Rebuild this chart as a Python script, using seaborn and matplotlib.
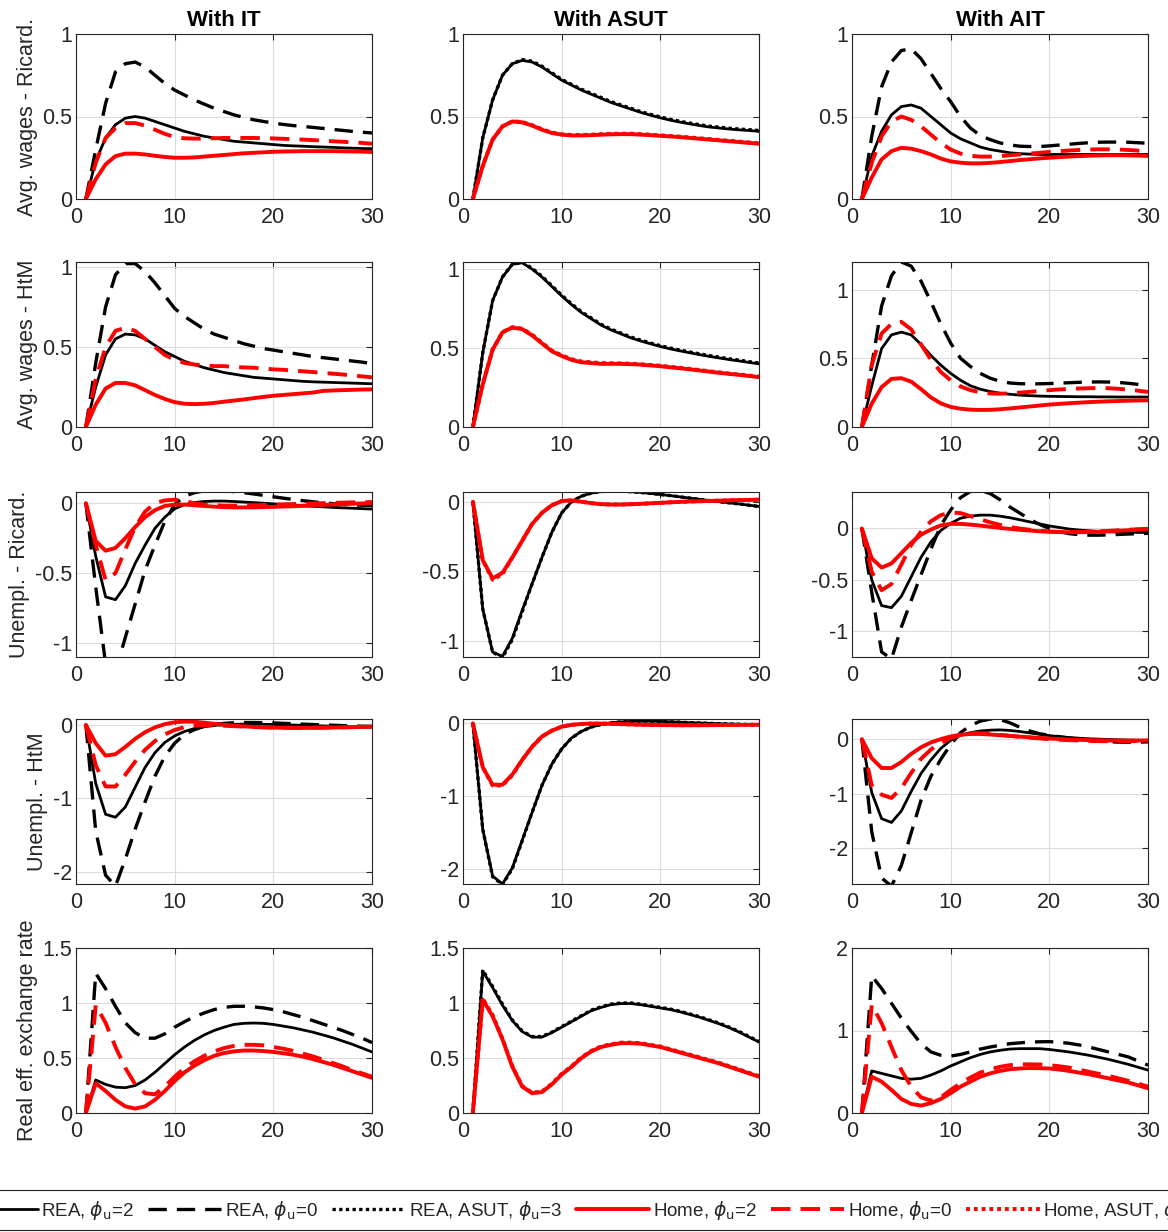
import matplotlib
matplotlib.use("Agg")
import matplotlib.pyplot as plt
from matplotlib.ticker import FuncFormatter
import seaborn as sns

periods = list(range(1, 31))

# ---------------- With IT ----------------
it_wr_rea2 = [0, 0.23, 0.37, 0.45, 0.49, 0.5, 0.49, 0.47, 0.45, 0.43, 0.41, 0.395, 0.38, 0.37, 0.36, 0.35, 0.345, 0.34, 0.335, 0.33, 0.325, 0.322, 0.32, 0.317, 0.315, 0.313, 0.31, 0.308, 0.306, 0.305]
it_wr_rea0 = [0, 0.3, 0.58, 0.77, 0.82, 0.83, 0.8, 0.75, 0.7, 0.66, 0.63, 0.6, 0.575, 0.55, 0.53, 0.51, 0.495, 0.48, 0.47, 0.46, 0.452, 0.445, 0.44, 0.434, 0.428, 0.422, 0.416, 0.41, 0.405, 0.4]
it_wr_home2 = [0, 0.12, 0.21, 0.26, 0.275, 0.275, 0.27, 0.262, 0.255, 0.25, 0.25, 0.252, 0.257, 0.262, 0.267, 0.272, 0.277, 0.28, 0.283, 0.286, 0.288, 0.289, 0.29, 0.29, 0.29, 0.29, 0.289, 0.288, 0.287, 0.285]
it_wr_home0 = [0, 0.22, 0.37, 0.43, 0.46, 0.46, 0.445, 0.42, 0.395, 0.375, 0.368, 0.366, 0.366, 0.368, 0.37, 0.37, 0.37, 0.37, 0.369, 0.367, 0.365, 0.362, 0.36, 0.357, 0.354, 0.35, 0.347, 0.343, 0.34, 0.335]

it_wh_rea2 = [0, 0.25, 0.45, 0.55, 0.58, 0.575, 0.55, 0.51, 0.47, 0.44, 0.41, 0.39, 0.37, 0.355, 0.34, 0.33, 0.32, 0.31, 0.305, 0.3, 0.295, 0.29, 0.285, 0.282, 0.28, 0.278, 0.276, 0.274, 0.272, 0.27]
it_wh_rea0 = [0, 0.4, 0.75, 0.95, 1.02, 1.02, 0.97, 0.9, 0.82, 0.74, 0.69, 0.65, 0.61, 0.58, 0.56, 0.54, 0.52, 0.505, 0.49, 0.48, 0.47, 0.46, 0.45, 0.44, 0.433, 0.426, 0.419, 0.412, 0.405, 0.395]
it_wh_home2 = [0, 0.14, 0.24, 0.275, 0.275, 0.26, 0.23, 0.2, 0.175, 0.155, 0.145, 0.143, 0.145, 0.15, 0.158, 0.165, 0.172, 0.18, 0.188, 0.195, 0.2, 0.205, 0.21, 0.215, 0.225, 0.228, 0.23, 0.232, 0.234, 0.235]
it_wh_home0 = [0, 0.3, 0.5, 0.6, 0.62, 0.6, 0.55, 0.5, 0.45, 0.42, 0.4, 0.39, 0.385, 0.38, 0.38, 0.375, 0.372, 0.37, 0.365, 0.36, 0.357, 0.352, 0.348, 0.343, 0.338, 0.333, 0.328, 0.322, 0.316, 0.31]

it_ur_rea2 = [0, -0.38, -0.67, -0.69, -0.59, -0.43, -0.3, -0.18, -0.1, -0.04, -0.01, 0.005, 0.012, 0.015, 0.015, 0.012, 0.008, 0.004, 0.0, -0.005, -0.01, -0.014, -0.018, -0.022, -0.026, -0.03, -0.033, -0.036, -0.039, -0.042]
it_ur_rea0 = [0, -0.6, -1.15, -1.2, -0.96, -0.72, -0.48, -0.3, -0.13, -0.01, 0.05, 0.075, 0.088, 0.09, 0.088, 0.083, 0.075, 0.066, 0.056, 0.046, 0.036, 0.027, 0.018, 0.01, 0.003, -0.003, -0.008, -0.012, -0.015, -0.017]
it_ur_home2 = [0, -0.27, -0.34, -0.32, -0.25, -0.17, -0.1, -0.05, -0.02, -0.01, -0.01, -0.015, -0.02, -0.025, -0.028, -0.03, -0.03, -0.03, -0.028, -0.026, -0.024, -0.022, -0.019, -0.016, -0.013, -0.01, -0.007, -0.004, -0.002, 0.0]
it_ur_home0 = [0, -0.3, -0.55, -0.5, -0.33, -0.17, -0.06, 0.0, 0.02, 0.025, 0.015, 0.0, -0.01, -0.015, -0.018, -0.018, -0.017, -0.015, -0.013, -0.01, -0.008, -0.006, -0.004, -0.002, 0.0, 0.002, 0.004, 0.006, 0.007, 0.008]

it_uh_rea2 = [0, -0.8, -1.22, -1.26, -1.12, -0.85, -0.58, -0.38, -0.24, -0.15, -0.09, -0.05, -0.025, -0.008, 0.002, 0.008, 0.01, 0.01, 0.008, 0.005, 0.002, -0.002, -0.006, -0.01, -0.014, -0.018, -0.022, -0.026, -0.03, -0.033]
it_uh_rea0 = [0, -1.45, -2.05, -2.2, -1.83, -1.42, -1.05, -0.7, -0.43, -0.25, -0.13, -0.065, -0.02, 0.005, 0.02, 0.028, 0.032, 0.032, 0.03, 0.026, 0.021, 0.016, 0.01, 0.005, 0.0, -0.005, -0.01, -0.014, -0.018, -0.021]
it_uh_home2 = [0, -0.25, -0.42, -0.4, -0.3, -0.19, -0.1, -0.035, 0.01, 0.035, 0.045, 0.042, 0.03, 0.015, 0.002, -0.01, -0.02, -0.028, -0.033, -0.037, -0.04, -0.041, -0.041, -0.04, -0.038, -0.036, -0.034, -0.031, -0.028, -0.025]
it_uh_home0 = [0, -0.55, -0.84, -0.84, -0.68, -0.5, -0.34, -0.22, -0.13, -0.07, -0.03, -0.01, -0.005, -0.008, -0.012, -0.018, -0.024, -0.029, -0.033, -0.036, -0.038, -0.039, -0.039, -0.038, -0.037, -0.035, -0.033, -0.031, -0.029, -0.027]

it_rer_rea2 = [0, 0.3, 0.26, 0.235, 0.23, 0.25, 0.3, 0.37, 0.45, 0.53, 0.6, 0.66, 0.71, 0.75, 0.78, 0.805, 0.815, 0.818, 0.815, 0.805, 0.79, 0.775, 0.755, 0.735, 0.71, 0.685, 0.655, 0.625, 0.59, 0.555]
it_rer_rea0 = [0, 1.27, 1.13, 0.97, 0.82, 0.73, 0.68, 0.68, 0.72, 0.78, 0.83, 0.875, 0.91, 0.94, 0.96, 0.97, 0.97, 0.965, 0.955, 0.94, 0.92, 0.895, 0.87, 0.84, 0.81, 0.78, 0.75, 0.715, 0.68, 0.64]
it_rer_home2 = [0, 0.27, 0.2, 0.12, 0.06, 0.04, 0.06, 0.12, 0.2, 0.29, 0.37, 0.43, 0.48, 0.52, 0.545, 0.56, 0.568, 0.568, 0.563, 0.555, 0.543, 0.53, 0.513, 0.49, 0.465, 0.44, 0.41, 0.38, 0.35, 0.32]
it_rer_home0 = [0, 0.98, 0.82, 0.6, 0.41, 0.26, 0.18, 0.17, 0.24, 0.33, 0.41, 0.47, 0.52, 0.56, 0.59, 0.61, 0.62, 0.62, 0.615, 0.6, 0.585, 0.565, 0.54, 0.515, 0.485, 0.455, 0.425, 0.39, 0.36, 0.33]

# ---------------- With ASUT ----------------
asut_wr_rea2 = [0, 0.37, 0.6, 0.75, 0.82, 0.84, 0.83, 0.8, 0.76, 0.72, 0.69, 0.66, 0.635, 0.61, 0.585, 0.565, 0.545, 0.525, 0.508, 0.492, 0.478, 0.466, 0.455, 0.445, 0.436, 0.43, 0.424, 0.419, 0.415, 0.41]
asut_wr_rea3 = [0, 0.37, 0.6, 0.75, 0.82, 0.845, 0.835, 0.805, 0.765, 0.725, 0.695, 0.665, 0.64, 0.615, 0.59, 0.57, 0.55, 0.53, 0.513, 0.497, 0.483, 0.471, 0.46, 0.45, 0.441, 0.435, 0.429, 0.424, 0.42, 0.415]
asut_wr_home2 = [0, 0.2, 0.36, 0.44, 0.47, 0.465, 0.445, 0.42, 0.4, 0.39, 0.385, 0.385, 0.387, 0.39, 0.392, 0.393, 0.393, 0.39, 0.387, 0.383, 0.379, 0.375, 0.37, 0.365, 0.36, 0.355, 0.35, 0.345, 0.34, 0.335]
asut_wr_home3 = [0, 0.2, 0.36, 0.44, 0.47, 0.467, 0.448, 0.423, 0.403, 0.392, 0.388, 0.388, 0.39, 0.393, 0.395, 0.396, 0.396, 0.393, 0.39, 0.386, 0.382, 0.378, 0.373, 0.368, 0.363, 0.358, 0.353, 0.348, 0.343, 0.338]

asut_wh_rea2 = [0, 0.47, 0.8, 0.95, 1.03, 1.04, 1.0, 0.95, 0.89, 0.83, 0.775, 0.725, 0.685, 0.645, 0.615, 0.59, 0.565, 0.545, 0.527, 0.51, 0.495, 0.482, 0.47, 0.458, 0.447, 0.437, 0.427, 0.418, 0.409, 0.4]
asut_wh_rea3 = [0, 0.47, 0.8, 0.95, 1.03, 1.045, 1.005, 0.955, 0.895, 0.835, 0.78, 0.73, 0.69, 0.65, 0.62, 0.595, 0.57, 0.55, 0.532, 0.515, 0.5, 0.487, 0.475, 0.463, 0.452, 0.442, 0.432, 0.423, 0.414, 0.405]
asut_wh_home2 = [0, 0.27, 0.49, 0.6, 0.63, 0.62, 0.58, 0.53, 0.48, 0.45, 0.425, 0.41, 0.405, 0.4, 0.4, 0.4, 0.398, 0.395, 0.39, 0.385, 0.378, 0.372, 0.365, 0.358, 0.35, 0.343, 0.336, 0.33, 0.323, 0.316]
asut_wh_home3 = [0, 0.27, 0.49, 0.6, 0.632, 0.623, 0.584, 0.534, 0.484, 0.454, 0.43, 0.415, 0.41, 0.405, 0.404, 0.403, 0.401, 0.398, 0.393, 0.388, 0.381, 0.375, 0.368, 0.361, 0.353, 0.346, 0.339, 0.333, 0.326, 0.319]

asut_ur_rea2 = [0, -0.77, -1.08, -1.11, -0.98, -0.78, -0.59, -0.4, -0.22, -0.08, 0.0, 0.04, 0.062, 0.073, 0.078, 0.076, 0.072, 0.067, 0.06, 0.052, 0.044, 0.035, 0.026, 0.017, 0.008, 0.0, -0.008, -0.016, -0.025, -0.034]
asut_ur_rea3 = [0, -0.77, -1.08, -1.12, -0.99, -0.79, -0.59, -0.4, -0.22, -0.08, 0.0, 0.04, 0.062, 0.073, 0.078, 0.076, 0.072, 0.067, 0.06, 0.052, 0.044, 0.035, 0.026, 0.017, 0.008, 0.0, -0.008, -0.016, -0.025, -0.034]
asut_ur_home2 = [0, -0.42, -0.55, -0.51, -0.4, -0.28, -0.16, -0.08, -0.025, 0.005, 0.01, 0.0, -0.01, -0.017, -0.02, -0.02, -0.018, -0.015, -0.011, -0.008, -0.004, -0.001, 0.002, 0.004, 0.006, 0.008, 0.01, 0.012, 0.013, 0.015]
asut_ur_home3 = [0, -0.42, -0.56, -0.52, -0.4, -0.28, -0.16, -0.08, -0.025, 0.005, 0.01, 0.0, -0.01, -0.017, -0.02, -0.02, -0.018, -0.015, -0.011, -0.008, -0.004, -0.001, 0.002, 0.004, 0.006, 0.008, 0.01, 0.012, 0.013, 0.015]

asut_uh_rea2 = [0, -1.45, -2.09, -2.2, -1.98, -1.6, -1.22, -0.85, -0.56, -0.35, -0.2, -0.11, -0.05, -0.015, 0.008, 0.02, 0.027, 0.03, 0.03, 0.027, 0.022, 0.016, 0.01, 0.005, 0.0, -0.004, -0.008, -0.012, -0.015, -0.018]
asut_uh_rea3 = [0, -1.45, -2.1, -2.21, -1.99, -1.61, -1.22, -0.85, -0.56, -0.35, -0.2, -0.11, -0.05, -0.015, 0.008, 0.02, 0.027, 0.03, 0.03, 0.027, 0.022, 0.016, 0.01, 0.005, 0.0, -0.004, -0.008, -0.012, -0.015, -0.018]
asut_uh_home2 = [0, -0.6, -0.84, -0.84, -0.7, -0.5, -0.32, -0.18, -0.1, -0.045, -0.02, -0.008, -0.003, -0.003, -0.006, -0.01, -0.014, -0.018, -0.021, -0.023, -0.024, -0.025, -0.025, -0.025, -0.024, -0.023, -0.022, -0.021, -0.02, -0.019]
asut_uh_home3 = [0, -0.6, -0.85, -0.85, -0.71, -0.5, -0.32, -0.18, -0.1, -0.045, -0.02, -0.008, -0.003, -0.003, -0.006, -0.01, -0.014, -0.018, -0.021, -0.023, -0.024, -0.025, -0.025, -0.025, -0.024, -0.023, -0.022, -0.021, -0.02, -0.019]

asut_rer_rea2 = [0, 1.29, 1.14, 0.98, 0.84, 0.74, 0.69, 0.69, 0.73, 0.78, 0.83, 0.88, 0.93, 0.96, 0.985, 0.995, 0.995, 0.985, 0.97, 0.955, 0.94, 0.92, 0.895, 0.87, 0.84, 0.81, 0.775, 0.735, 0.69, 0.645]
asut_rer_rea3 = [0, 1.3, 1.15, 0.99, 0.845, 0.745, 0.695, 0.695, 0.735, 0.785, 0.835, 0.885, 0.935, 0.965, 0.99, 1.0, 1.0, 0.99, 0.975, 0.96, 0.945, 0.925, 0.9, 0.875, 0.845, 0.815, 0.78, 0.74, 0.695, 0.65]
asut_rer_home2 = [0, 1.03, 0.88, 0.67, 0.42, 0.24, 0.18, 0.19, 0.26, 0.35, 0.42, 0.5, 0.56, 0.6, 0.62, 0.635, 0.635, 0.63, 0.615, 0.6, 0.575, 0.55, 0.525, 0.5, 0.475, 0.45, 0.42, 0.39, 0.36, 0.33]
asut_rer_home3 = [0, 1.04, 0.89, 0.675, 0.425, 0.245, 0.185, 0.195, 0.265, 0.355, 0.425, 0.505, 0.565, 0.605, 0.625, 0.64, 0.64, 0.635, 0.62, 0.605, 0.58, 0.555, 0.53, 0.505, 0.48, 0.455, 0.425, 0.395, 0.365, 0.335]

# ---------------- With AIT ----------------
ait_wr_rea2 = [0, 0.26, 0.41, 0.51, 0.56, 0.57, 0.55, 0.5, 0.45, 0.4, 0.365, 0.34, 0.315, 0.3, 0.29, 0.28, 0.275, 0.272, 0.27, 0.27, 0.27, 0.27, 0.27, 0.27, 0.27, 0.27, 0.27, 0.27, 0.27, 0.27]
ait_wr_rea0 = [0, 0.38, 0.68, 0.83, 0.9, 0.91, 0.85, 0.76, 0.67, 0.59, 0.5, 0.43, 0.385, 0.36, 0.34, 0.328, 0.32, 0.318, 0.318, 0.322, 0.327, 0.332, 0.337, 0.341, 0.344, 0.345, 0.345, 0.344, 0.341, 0.338]
ait_wr_home2 = [0, 0.13, 0.24, 0.29, 0.31, 0.305, 0.29, 0.27, 0.245, 0.228, 0.22, 0.216, 0.216, 0.219, 0.224, 0.23, 0.236, 0.241, 0.246, 0.25, 0.254, 0.257, 0.26, 0.262, 0.264, 0.265, 0.265, 0.264, 0.263, 0.261]
ait_wr_home0 = [0, 0.22, 0.38, 0.47, 0.5, 0.48, 0.44, 0.39, 0.34, 0.3, 0.275, 0.262, 0.257, 0.257, 0.26, 0.265, 0.27, 0.275, 0.28, 0.285, 0.29, 0.294, 0.297, 0.3, 0.301, 0.301, 0.3, 0.297, 0.293, 0.288]

ait_wh_rea2 = [0, 0.3, 0.57, 0.67, 0.69, 0.67, 0.6, 0.52, 0.45, 0.39, 0.34, 0.3, 0.275, 0.258, 0.246, 0.238, 0.232, 0.228, 0.225, 0.223, 0.222, 0.221, 0.22, 0.22, 0.219, 0.219, 0.218, 0.218, 0.218, 0.218]
ait_wh_rea0 = [0, 0.45, 0.88, 1.1, 1.2, 1.17, 1.06, 0.91, 0.75, 0.61, 0.5, 0.44, 0.39, 0.355, 0.333, 0.32, 0.315, 0.313, 0.314, 0.316, 0.319, 0.322, 0.325, 0.327, 0.328, 0.327, 0.324, 0.318, 0.31, 0.3]
ait_wh_home2 = [0, 0.17, 0.29, 0.35, 0.355, 0.33, 0.275, 0.215, 0.172, 0.146, 0.133, 0.126, 0.124, 0.125, 0.129, 0.135, 0.142, 0.149, 0.156, 0.163, 0.168, 0.173, 0.177, 0.181, 0.184, 0.187, 0.189, 0.191, 0.193, 0.194]
ait_wh_home0 = [0, 0.45, 0.68, 0.75, 0.765, 0.71, 0.6, 0.49, 0.4, 0.34, 0.295, 0.268, 0.252, 0.244, 0.242, 0.245, 0.25, 0.256, 0.262, 0.268, 0.273, 0.277, 0.28, 0.282, 0.283, 0.282, 0.278, 0.272, 0.264, 0.255]

ait_ur_rea2 = [0, -0.5, -0.75, -0.77, -0.66, -0.47, -0.28, -0.13, -0.02, 0.05, 0.1, 0.12, 0.13, 0.13, 0.12, 0.105, 0.085, 0.065, 0.045, 0.025, 0.01, -0.005, -0.015, -0.022, -0.028, -0.032, -0.035, -0.037, -0.038, -0.039]
ait_ur_rea0 = [0, -0.62, -1.2, -1.27, -0.96, -0.7, -0.45, -0.2, 0.03, 0.18, 0.3, 0.36, 0.37, 0.34, 0.28, 0.21, 0.15, 0.09, 0.04, 0.0, -0.03, -0.05, -0.06, -0.065, -0.065, -0.062, -0.058, -0.054, -0.05, -0.047]
ait_ur_home2 = [0, -0.29, -0.38, -0.34, -0.24, -0.14, -0.06, -0.01, 0.03, 0.045, 0.045, 0.038, 0.028, 0.017, 0.006, -0.004, -0.013, -0.02, -0.027, -0.032, -0.035, -0.037, -0.037, -0.035, -0.032, -0.027, -0.022, -0.017, -0.012, -0.008]
ait_ur_home0 = [0, -0.42, -0.6, -0.54, -0.35, -0.16, -0.03, 0.07, 0.13, 0.155, 0.15, 0.12, 0.09, 0.06, 0.035, 0.015, 0.0, -0.012, -0.022, -0.029, -0.033, -0.035, -0.034, -0.032, -0.028, -0.023, -0.018, -0.012, -0.007, -0.003]

ait_uh_rea2 = [0, -0.98, -1.46, -1.53, -1.32, -0.96, -0.63, -0.38, -0.17, -0.02, 0.07, 0.12, 0.15, 0.165, 0.17, 0.16, 0.14, 0.115, 0.09, 0.065, 0.045, 0.03, 0.017, 0.007, 0.0, -0.006, -0.012, -0.017, -0.021, -0.025]
ait_uh_rea0 = [0, -1.7, -2.55, -2.7, -2.32, -1.72, -1.12, -0.68, -0.37, -0.1, 0.12, 0.25, 0.33, 0.37, 0.36, 0.3, 0.22, 0.15, 0.1, 0.07, 0.045, 0.02, 0.0, -0.02, -0.035, -0.047, -0.055, -0.057, -0.055, -0.05]
ait_uh_home2 = [0, -0.35, -0.53, -0.53, -0.42, -0.27, -0.15, -0.06, 0.0, 0.05, 0.08, 0.095, 0.095, 0.085, 0.072, 0.06, 0.047, 0.035, 0.023, 0.012, 0.003, -0.005, -0.012, -0.018, -0.022, -0.025, -0.026, -0.026, -0.025, -0.024]
ait_uh_home0 = [0, -0.85, -1.02, -1.08, -0.9, -0.62, -0.36, -0.19, -0.07, 0.02, 0.08, 0.11, 0.11, 0.1, 0.08, 0.06, 0.042, 0.027, 0.013, 0.0, -0.01, -0.019, -0.026, -0.032, -0.036, -0.038, -0.038, -0.036, -0.033, -0.03]

ait_rer_rea2 = [0, 0.51, 0.48, 0.45, 0.42, 0.41, 0.42, 0.46, 0.51, 0.57, 0.62, 0.67, 0.71, 0.74, 0.76, 0.775, 0.78, 0.78, 0.78, 0.77, 0.755, 0.74, 0.72, 0.7, 0.675, 0.65, 0.62, 0.59, 0.555, 0.52]
ait_rer_rea0 = [0, 1.66, 1.51, 1.33, 1.15, 0.99, 0.84, 0.74, 0.7, 0.69, 0.71, 0.74, 0.775, 0.8, 0.82, 0.84, 0.85, 0.86, 0.863, 0.865, 0.857, 0.845, 0.825, 0.8, 0.77, 0.74, 0.71, 0.68, 0.63, 0.58]
ait_rer_home2 = [0, 0.44, 0.38, 0.28, 0.17, 0.11, 0.09, 0.12, 0.17, 0.24, 0.32, 0.38, 0.44, 0.48, 0.51, 0.53, 0.54, 0.545, 0.543, 0.54, 0.527, 0.51, 0.49, 0.47, 0.445, 0.42, 0.395, 0.37, 0.335, 0.3]
ait_rer_home0 = [0, 1.31, 1.09, 0.8, 0.52, 0.32, 0.19, 0.15, 0.19, 0.28, 0.36, 0.43, 0.49, 0.53, 0.56, 0.58, 0.59, 0.59, 0.588, 0.58, 0.567, 0.55, 0.527, 0.5, 0.475, 0.45, 0.42, 0.39, 0.355, 0.32]

col_titles = ["With IT", "With ASUT", "With AIT"]
row_labels = ["Avg. wages - Ricard.", "Avg. wages - HtM", "Unempl. - Ricard.",
              "Unempl. - HtM", "Real eff. exchange rate"]

legend_labels = {
    "rea2": r"REA, $\phi_{\rm u}$=2",
    "rea0": r"REA, $\phi_{\rm u}$=0",
    "rea3": r"REA, ASUT, $\phi_{\rm u}$=3",
    "home2": r"Home, $\phi_{\rm u}$=2",
    "home0": r"Home, $\phi_{\rm u}$=0",
    "home3": r"Home, ASUT, $\phi_{\rm u}$=3",
}

# panels[row][col] -> series drawn in that panel
panels = [
    [[("rea2", it_wr_rea2), ("rea0", it_wr_rea0), ("home2", it_wr_home2), ("home0", it_wr_home0)],
     [("rea2", asut_wr_rea2), ("rea3", asut_wr_rea3), ("home2", asut_wr_home2), ("home3", asut_wr_home3)],
     [("rea2", ait_wr_rea2), ("rea0", ait_wr_rea0), ("home2", ait_wr_home2), ("home0", ait_wr_home0)]],
    [[("rea2", it_wh_rea2), ("rea0", it_wh_rea0), ("home2", it_wh_home2), ("home0", it_wh_home0)],
     [("rea2", asut_wh_rea2), ("rea3", asut_wh_rea3), ("home2", asut_wh_home2), ("home3", asut_wh_home3)],
     [("rea2", ait_wh_rea2), ("rea0", ait_wh_rea0), ("home2", ait_wh_home2), ("home0", ait_wh_home0)]],
    [[("rea2", it_ur_rea2), ("rea0", it_ur_rea0), ("home2", it_ur_home2), ("home0", it_ur_home0)],
     [("rea2", asut_ur_rea2), ("rea3", asut_ur_rea3), ("home2", asut_ur_home2), ("home3", asut_ur_home3)],
     [("rea2", ait_ur_rea2), ("rea0", ait_ur_rea0), ("home2", ait_ur_home2), ("home0", ait_ur_home0)]],
    [[("rea2", it_uh_rea2), ("rea0", it_uh_rea0), ("home2", it_uh_home2), ("home0", it_uh_home0)],
     [("rea2", asut_uh_rea2), ("rea3", asut_uh_rea3), ("home2", asut_uh_home2), ("home3", asut_uh_home3)],
     [("rea2", ait_uh_rea2), ("rea0", ait_uh_rea0), ("home2", ait_uh_home2), ("home0", ait_uh_home0)]],
    [[("rea2", it_rer_rea2), ("rea0", it_rer_rea0), ("home2", it_rer_home2), ("home0", it_rer_home0)],
     [("rea2", asut_rer_rea2), ("rea3", asut_rer_rea3), ("home2", asut_rer_home2), ("home3", asut_rer_home3)],
     [("rea2", ait_rer_rea2), ("rea0", ait_rer_rea0), ("home2", ait_rer_home2), ("home0", ait_rer_home0)]],
]

ylims = [
    [(0, 1), (0, 1), (0, 1)],
    [(0, 1.03), (0, 1.045), (0, 1.2)],
    [(-1.1, 0.08), (-1.115, 0.07), (-1.25, 0.355)],
    [(-2.17, 0.08), (-2.2, 0.06), (-2.66, 0.37)],
    [(0, 1.5), (0, 1.5), (0, 2)],
]
yticks = [
    [[0, 0.5, 1]] * 3,
    [[0, 0.5, 1]] * 3,
    [[-1, -0.5, 0]] * 3,
    [[-2, -1, 0]] * 3,
    [[0, 0.5, 1, 1.5], [0, 0.5, 1, 1.5], [0, 1, 2]],
]

styles = {
    "rea2": dict(color="black", linewidth=2.0, linestyle="-"),
    "rea0": dict(color="black", linewidth=2.4, linestyle=(0, (5.5, 3))),
    "rea3": dict(color="black", linewidth=2.4, linestyle=(0, (1, 1))),
    "home2": dict(color="#ff0000", linewidth=2.8, linestyle="-"),
    "home0": dict(color="#ff0000", linewidth=2.8, linestyle=(0, (5, 2.6))),
    "home3": dict(color="#ff0000", linewidth=2.8, linestyle=(0, (1, 1))),
}

sns.set_theme(style="white")
plt.rcParams["font.family"] = ["Liberation Sans", "DejaVu Sans"]
plt.rcParams["mathtext.fontset"] = "dejavusans"
plt.rcParams["axes.unicode_minus"] = False

W, H = 1168, 1232
fig = plt.figure(figsize=(W / 100, H / 100), dpi=100)

col_left = [76, 463, 852]
col_width = 296
row_top = [34, 262, 492, 719, 948]
row_height = 165
ink = "#262626"
fs = 15.5

handles = {}
for r in range(5):
    for c in range(3):
        ax = fig.add_axes([col_left[c] / W, 1 - (row_top[r] + row_height) / H,
                           col_width / W, row_height / H])
        for key, vals in panels[r][c]:
            sns.lineplot(x=periods, y=vals, ax=ax, errorbar=None,
                         solid_joinstyle="round", dash_capstyle="butt",
                         **styles[key])
            handles.setdefault(key, ax.lines[-1])
        ax.set_xlim(0, 30)
        ax.set_ylim(*ylims[r][c])
        ax.set_xticks([0, 10, 20, 30])
        ax.set_yticks(yticks[r][c])
        ax.yaxis.set_major_formatter(FuncFormatter(lambda v, p: f"{v:g}"))
        ax.grid(True, color="#dcdcdc", linewidth=0.8)
        ax.set_axisbelow(True)
        for sp in ax.spines.values():
            sp.set_color(ink)
            sp.set_linewidth(0.8)
        ax.tick_params(direction="in", top=True, right=True, length=4,
                       width=0.8, color=ink, labelcolor=ink, labelsize=fs)
        ax.tick_params(axis="x", pad=6)
        ax.tick_params(axis="y", pad=3)
        ax.set_xlabel("")
        if c == 0:
            ax.set_ylabel(row_labels[r], fontsize=fs, color=ink, labelpad=3)
        else:
            ax.set_ylabel("")
        if r == 0:
            ax.set_title(col_titles[c], fontsize=16, fontweight="bold",
                         color="black", pad=6)

order = ["rea2", "rea0", "rea3", "home2", "home0", "home3"]
leg = fig.legend([handles[k] for k in order], [legend_labels[k] for k in order],
                 loc="center left", bbox_to_anchor=(-44 / W, 1 - 1210 / H),
                 ncol=6, fontsize=13.5, handlelength=3.9, handletextpad=0.2,
                 columnspacing=0.75, borderpad=0.45, borderaxespad=0,
                 frameon=True, fancybox=False, framealpha=1)
leg.get_frame().set_edgecolor(ink)
leg.get_frame().set_linewidth(0.8)

fig.savefig("out.png", dpi=100)
